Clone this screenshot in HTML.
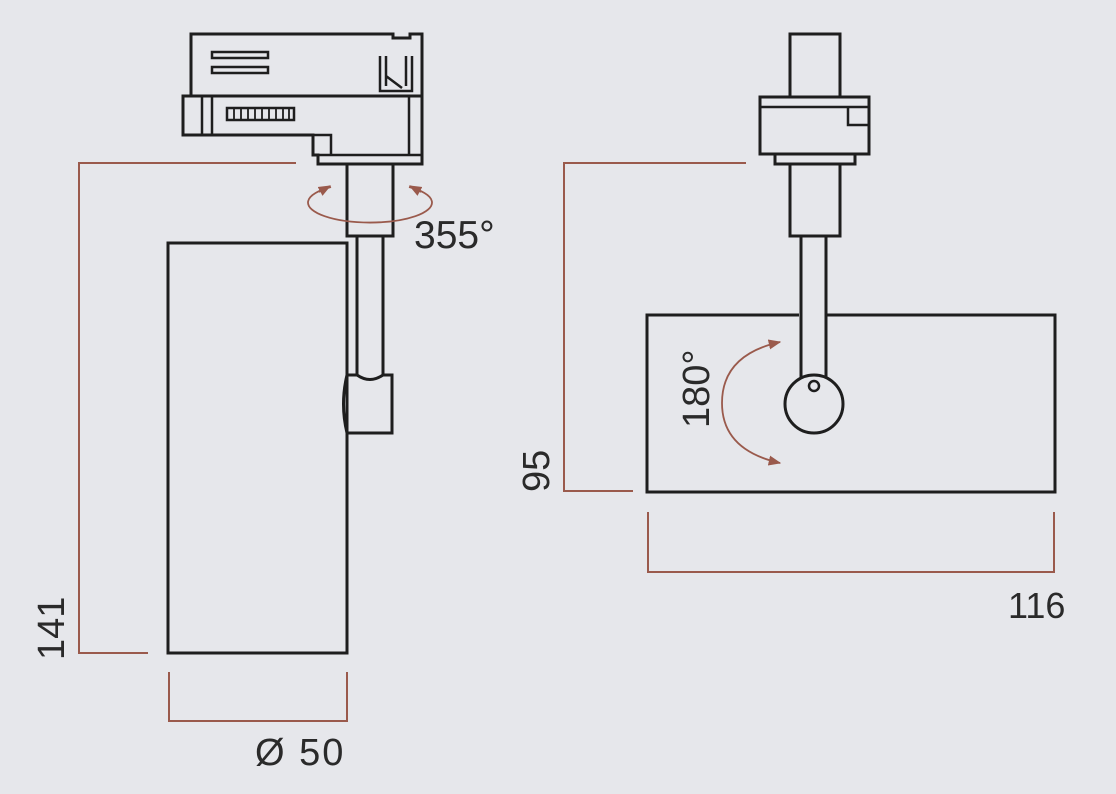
<!DOCTYPE html>
<html><head><meta charset="utf-8"><style>
html,body{margin:0;padding:0;background:#e6e7eb;}
svg{display:block}
text{font-family:"Liberation Sans",sans-serif;fill:#2a2a2a}
</style></head><body>
<svg width="1116" height="794" viewBox="0 0 1116 794" xmlns="http://www.w3.org/2000/svg">
<rect width="1116" height="794" fill="#e6e7eb"/>
<defs>
<marker id="ah" viewBox="0 0 10 10" refX="9" refY="5" markerWidth="7" markerHeight="7" orient="auto-start-reverse">
<path d="M0,1 L10,5 L0,9 z" fill="#9a5a4c"/></marker>
</defs>
<g fill="none" stroke="#1e1e1e" stroke-width="3">
<path d="M191,96 V34 H393 V38 H410 V34 H422 V96"/>
<rect x="212" y="52" width="56" height="6" stroke-width="2.5"/>
<rect x="212" y="67" width="56" height="6" stroke-width="2.5"/>
<path d="M380,56 V91 H412 V56 M386,56 V86 M406,56 V86 M386,76 L402,88" stroke-width="2.5"/>
<path d="M183,96 H422 V164 H318 V155 H313 V135 H183 Z"/>
<path d="M313,135 H331 V155 M318,155 H422 M409,96 V155" stroke-width="2.5"/>
<line x1="202" y1="96" x2="202" y2="135" stroke-width="2.5"/>
<line x1="212" y1="96" x2="212" y2="135" stroke-width="2.5"/>
<rect x="227" y="108" width="67" height="12" stroke-width="2.5"/>
<path d="M234,108V120M241,108V120M248,108V120M255,108V120M262,108V120M269,108V120M276,108V120M283,108V120M289,108V120" stroke-width="1.8"/>
<rect x="347" y="164" width="46" height="72"/>
<path d="M357,236 V375 M383,236 V375"/>
<path d="M347,375 H357 Q370,384 383,375 H392 V433 H347 Q340,404 347,375"/>
<rect x="168" y="243" width="179" height="410"/>
<path d="M790,97 V34 H840 V97"/>
<rect x="760" y="97" width="109" height="57"/>
<path d="M760,107 H848 M848,107 V125 H869 M848,107 H869" stroke-width="2.5"/>
<rect x="775" y="154" width="80" height="10"/>
<rect x="790" y="164" width="50" height="72"/>
<path d="M799,315 H647 V492 H1055 V315 H827"/>
<path d="M801,236 V382 M826,236 V382"/>
<circle cx="814" cy="404" r="29" fill="#e6e7eb"/>
<circle cx="814" cy="386" r="5" stroke-width="2.5"/>
</g>
<g fill="none" stroke="#9a5a4c" stroke-width="2">
<path d="M296,163 H79 V653 H148"/>
<path d="M169,672 V721 H347 V672"/>
<path d="M746,163 H564 V491 H633"/>
<path d="M648,512 V572 H1054 V512"/>
<path d="M331,187 A62,20 0 1 0 409,187" stroke-width="1.8"/>
<path d="M319,192 L330,186" marker-end="url(#ah)" stroke-width="1.8"/>
<path d="M421,192 L410,186" marker-end="url(#ah)" stroke-width="1.8"/>
<path d="M780,342 Q722,355 722,403 Q722,450 780,463" stroke-width="1.8" marker-start="url(#ah)" marker-end="url(#ah)"/>
</g>
<text x="414" y="248" font-size="39">355°</text>
<text x="1008" y="618" font-size="36">116</text>
<text x="255" y="765" font-size="38" letter-spacing="2">Ø 50</text>
<text transform="translate(64,660) rotate(-90)" font-size="38">141</text>
<text transform="translate(549,492) rotate(-90)" font-size="38">95</text>
<text transform="translate(709,428) rotate(-90)" font-size="38">180°</text>
</svg>
</body></html>
